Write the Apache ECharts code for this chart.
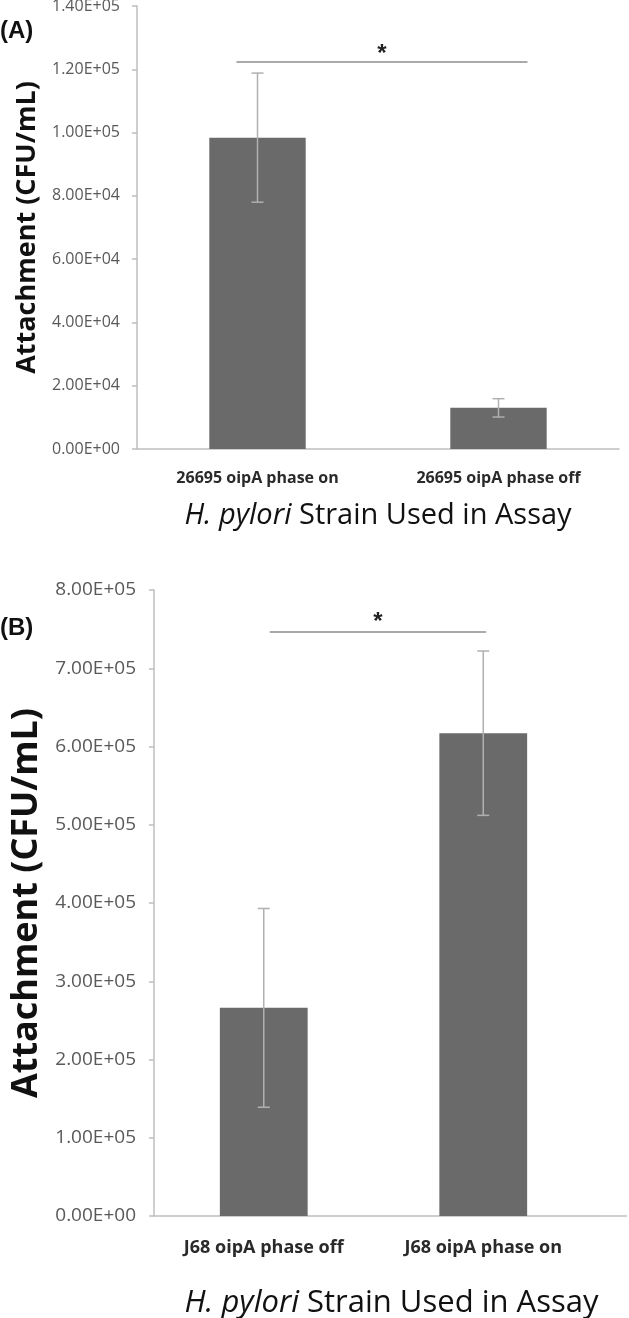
<!DOCTYPE html>
<html>
<head>
<meta charset="utf-8">
<script src="https://cdn.jsdelivr.net/npm/echarts@6/dist/echarts.min.js"></script>
<style>html,body{margin:0;padding:0;background:#fff}#c{width:629px;height:1318px}</style>
</head>
<body>
<div id="c"></div>
<script>
// ---- Data ----
const categoriesA = ['26695 oipA phase on', '26695 oipA phase off'];
const meansA = [98400, 13000];
const errorsA = [20400, 2900];
const yTicksA = ['0.00E+00', '2.00E+04', '4.00E+04', '6.00E+04', '8.00E+04', '1.00E+05', '1.20E+05', '1.40E+05'];
const sigA = [0, 1, 122300];

const categoriesB = ['J68 oipA phase off', 'J68 oipA phase on'];
const meansB = [266000, 617000];
const errorsB = [127000, 105000];
const yTicksB = ['0.00E+00', '1.00E+05', '2.00E+05', '3.00E+05', '4.00E+05', '5.00E+05', '6.00E+05', '7.00E+05', '8.00E+05'];
const sigB = [0, 1, 746300];

// ---- Layout ----
const gridA = {left: 137, top: 6, width: 482, height: 443, outerBoundsMode: 'none', containLabel: false};
const gridB = {left: 154, top: 590, width: 439, height: 626, outerBoundsMode: 'none', containLabel: false};
const AX = '#bfbfbf';
const FONT = '"Open Sans", "Noto Sans", sans-serif';

function errItem(params, api) {
  const x = api.value(0), m = api.value(1), e = api.value(2);
  const t = api.coord([x, m + e]);
  const b = api.coord([x, m - e]);
  const hw = 6;
  const st = {stroke: '#b0b0b0', lineWidth: 1.5};
  return {type: 'group', children: [
    {type: 'line', shape: {x1: t[0], y1: t[1], x2: b[0], y2: b[1]}, style: st},
    {type: 'line', shape: {x1: t[0] - hw, y1: t[1], x2: t[0] + hw, y2: t[1]}, style: st},
    {type: 'line', shape: {x1: b[0] - hw, y1: b[1], x2: b[0] + hw, y2: b[1]}, style: st}
  ]};
}
function sigItem(offL, offR, starDy) {
  return function (params, api) {
    const p1 = api.coord([api.value(0), api.value(2)]);
    const p2 = api.coord([api.value(1), api.value(2)]);
    const x1 = p1[0] + offL, x2 = p2[0] + offR;
    return {type: 'group', children: [
      {type: 'line', shape: {x1: x1, y1: p1[1], x2: x2, y2: p1[1]}, style: {stroke: '#aaaaaa', lineWidth: 2}},
      {type: 'text', style: {text: '*', x: (x1 + x2) / 2, y: p1[1] - starDy, fontSize: 24, fontWeight: 'bold',
        fontFamily: '"Liberation Sans", Arial, sans-serif', fill: '#222', align: 'center', verticalAlign: 'middle',
        textAlign: 'center', textVerticalAlign: 'middle'}}
    ]};
  };
}
function xAxisCfg(gi, cats, catSize, margin, titleSize, gap, padLeft) {
  return {
    gridIndex: gi, type: 'category', data: cats,
    axisLine: {lineStyle: {color: AX, width: 1.5}},
    axisTick: {length: 5, lineStyle: {color: AX, width: 1.5}},
    axisLabel: {fontSize: catSize, fontWeight: 'bold', color: '#2a2a2a', fontFamily: FONT, margin: margin},
    name: '{i|H. pylori} Strain Used in Assay', nameLocation: 'middle', nameGap: gap,
    nameTextStyle: {fontSize: titleSize, color: '#111', fontFamily: FONT, padding: [0, 0, 0, padLeft],
      rich: {i: {fontStyle: 'italic', fontSize: titleSize, color: '#111', fontFamily: FONT}}}
  };
}
function yAxisCfg(gi, max, interval, ticks, tickSize, margin, titleSize, gap) {
  return {
    gridIndex: gi, type: 'value', min: 0, max: max, interval: interval,
    splitLine: {show: false},
    axisLine: {show: true, lineStyle: {color: AX, width: 1.5}},
    axisTick: {show: true, length: 5, lineStyle: {color: AX, width: 1.5}},
    axisLabel: {fontSize: tickSize, color: '#595959', fontFamily: FONT, margin: margin,
      formatter: v => ticks[Math.round(v / interval)]},
    name: 'Attachment (CFU/mL)', nameLocation: 'middle', nameRotate: 90, nameGap: gap,
    nameTextStyle: {fontSize: titleSize, fontWeight: 'bold', color: '#111', fontFamily: FONT}
  };
}

const chart = echarts.init(document.getElementById('c'));
chart.setOption({
  animation: false,
  backgroundColor: '#fff',
  grid: [gridA, gridB],
  xAxis: [xAxisCfg(0, categoriesA, 16, 21, 29, 52, 0), xAxisCfg(1, categoriesB, 18, 23, 31, 72, 36)],
  yAxis: [yAxisCfg(0, 140000, 20000, yTicksA, 16, 17, 27, 93), yAxisCfg(1, 800000, 100000, yTicksB, 19, 18, 36, 108)],
  series: [
    {type: 'bar', xAxisIndex: 0, yAxisIndex: 0, data: meansA, barWidth: '40%', itemStyle: {color: '#6a6a6a'}},
    {type: 'bar', xAxisIndex: 1, yAxisIndex: 1, data: meansB, barWidth: '40%', itemStyle: {color: '#6a6a6a'}},
    {type: 'custom', xAxisIndex: 0, yAxisIndex: 0, renderItem: errItem, z: 5,
      data: meansA.map((m, i) => [i, m, errorsA[i]]), encode: {x: 0, y: 1}},
    {type: 'custom', xAxisIndex: 1, yAxisIndex: 1, renderItem: errItem, z: 5,
      data: meansB.map((m, i) => [i, m, errorsB[i]]), encode: {x: 0, y: 1}},
    {type: 'custom', xAxisIndex: 0, yAxisIndex: 0, renderItem: sigItem(-21, 29, 8), z: 6,
      data: [sigA], encode: {x: [0, 1], y: 2}},
    {type: 'custom', xAxisIndex: 1, yAxisIndex: 1, renderItem: sigItem(6, 3, 10), z: 6,
      data: [sigB], encode: {x: [0, 1], y: 2}}
  ],
  graphic: [
    {type: 'text', left: 0, top: 19, style: {text: '(A)', fontSize: 24, fontWeight: 'bold', fill: '#111', fontFamily: '"Liberation Sans", Arial, sans-serif'}},
    {type: 'text', left: 0, top: 616, style: {text: '(B)', fontSize: 24, fontWeight: 'bold', fill: '#111', fontFamily: '"Liberation Sans", Arial, sans-serif'}},
    {type: 'line', shape: {x1: gridB.left + gridB.width, y1: gridB.top + gridB.height, x2: 627, y2: gridB.top + gridB.height},
      style: {stroke: AX, lineWidth: 1.5}}
  ]
});
</script>
</body>
</html>
